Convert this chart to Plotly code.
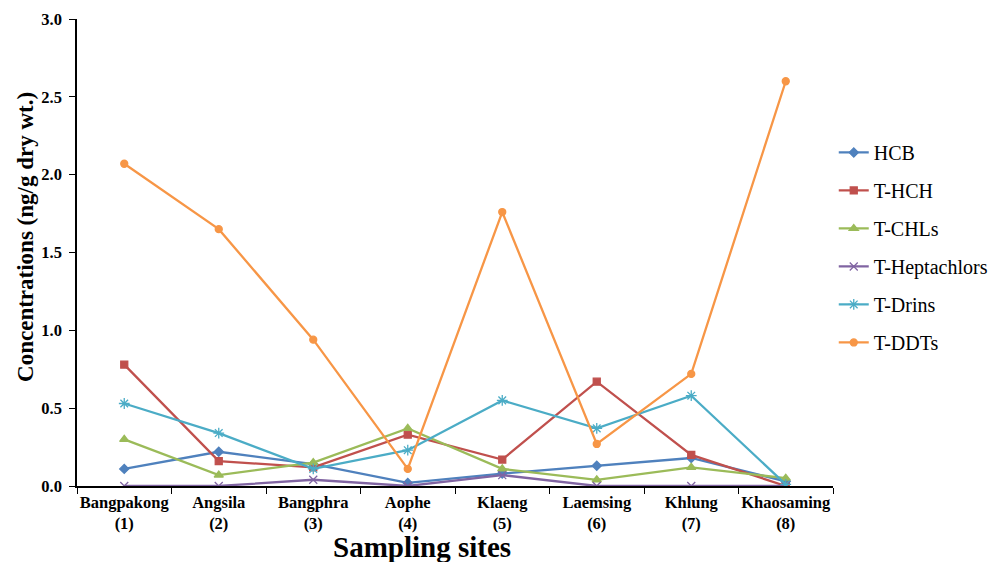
import plotly.graph_objects as go

sites = ["Bangpakong<br>(1)", "Angsila<br>(2)", "Bangphra<br>(3)", "Aophe<br>(4)",
         "Klaeng<br>(5)", "Laemsing<br>(6)", "Khlung<br>(7)", "Khaosaming<br>(8)"]

hcb = [0.11, 0.22, 0.14, 0.02, 0.08, 0.13, 0.18, 0.03]
t_hch = [0.78, 0.16, 0.12, 0.33, 0.17, 0.67, 0.20, 0.00]
t_chls = [0.30, 0.07, 0.15, 0.37, 0.11, 0.04, 0.12, 0.05]
t_hept = [0.00, 0.00, 0.04, 0.00, 0.07, 0.00, 0.00, 0.00]
t_drins = [0.53, 0.34, 0.11, 0.23, 0.55, 0.37, 0.58, 0.01]
t_ddts = [2.07, 1.65, 0.94, 0.11, 1.76, 0.27, 0.72, 2.60]

series = [
    ("HCB", hcb, "#4F81BD", "diamond", 7),
    ("T-HCH", t_hch, "#C0504D", "square", 7),
    ("T-CHLs", t_chls, "#9BBB59", "triangle-up", 8),
    ("T-Heptachlors", t_hept, "#8064A2", "x-thin-open", 8),
    ("T-Drins", t_drins, "#4BACC6", "asterisk-open", 9),
    ("T-DDTs", t_ddts, "#F79646", "circle", 7),
]

fig = go.Figure()
for i, (name, vals, col, sym, sz) in enumerate(series):
    fig.add_trace(go.Scatter(
        x=sites, y=vals, name=name, mode="lines+markers",
        line=dict(color=col, width=2.3),
        marker=dict(symbol=sym, size=sz, color=col, line=dict(color=col, width=1.3)),
        legendgroup=str(i),
    ))

serif = "Liberation Serif, Times New Roman, serif"
W, H = 988, 554
fig.update_layout(
    width=W, height=H,
    margin=dict(l=69, r=163, t=11, b=76, autoexpand=False),
    paper_bgcolor="white", plot_bgcolor="white",
    font=dict(family=serif, color="black"),
    showlegend=True,
    legend=dict(x=1.001, xref="paper", y=0.756, yanchor="top", xanchor="left",
                font=dict(family=serif, size=20, color="black"),
                tracegroupgap=9, itemwidth=30),
    xaxis=dict(type="category", range=[-0.5, len(sites) - 0.5], autorange=False,
               showline=True, linecolor="black", linewidth=1.5,
               ticks="outside", tickson="boundaries", ticklen=6, tickcolor="black",
               showgrid=False, zeroline=False, tickangle=0, automargin=False,
               tickfont=dict(family=serif, size=16.5, color="black", weight="bold")),
    yaxis=dict(range=[0, 3.0], dtick=0.5, tickformat=".1f", showline=True,
               linecolor="black", linewidth=1.5, ticks="outside", ticklen=6,
               tickcolor="black", showgrid=False, zeroline=False, automargin=False,
               ticklabelstandoff=4,
               tickfont=dict(family=serif, size=16.5, color="black", weight="bold")),
    annotations=[
        dict(text="Sampling sites", xref="paper", yref="paper", x=0.457, y=-0.169,
             showarrow=False, font=dict(family=serif, size=29, color="black", weight="bold"),
             xanchor="center", yanchor="bottom"),
        dict(text="Concentrations (ng/g dry wt.)", xref="paper", yref="paper",
             x=-0.069, y=0.533, textangle=-90, showarrow=False,
             font=dict(family=serif, size=23, color="black", weight="bold"),
             xanchor="center", yanchor="middle"),
    ],
)

fig.write_html("out.html")
